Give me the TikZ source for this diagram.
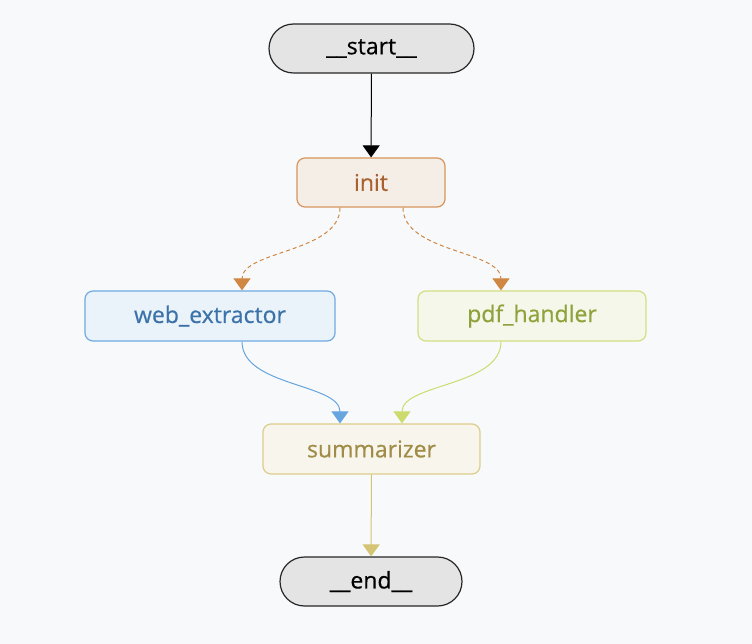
\documentclass[tikz,border=0pt]{standalone}
\usepackage{fontspec}
\setmainfont{Open Sans}[FakeBold=0.5]
\usetikzlibrary{arrows.meta}
\definecolor{bg}{HTML}{F8F9FB}
\definecolor{termfill}{HTML}{E4E4E4}
\definecolor{termdraw}{HTML}{262626}
\definecolor{initfill}{HTML}{F5EEE7}
\definecolor{initdraw}{HTML}{D6955C}
\definecolor{inittext}{HTML}{A8612F}
\definecolor{initedge}{HTML}{CF8743}
\definecolor{webfill}{HTML}{EAF2FA}
\definecolor{webdraw}{HTML}{6FAAE0}
\definecolor{webtext}{HTML}{3B72A8}
\definecolor{webedge}{HTML}{67A5E0}
\definecolor{pdffill}{HTML}{F5F7EB}
\definecolor{pdfdraw}{HTML}{D3DF80}
\definecolor{pdftext}{HTML}{8FA23B}
\definecolor{pdfedge}{HTML}{CDDB6E}
\definecolor{sumfill}{HTML}{F7F5EC}
\definecolor{sumdraw}{HTML}{DDCD8C}
\definecolor{sumtext}{HTML}{A08C46}
\definecolor{sumedge}{HTML}{D4C474}
\tikzset{
  box/.style={draw, line width=1.2pt, minimum height=49pt, rounded corners=8pt, inner sep=0pt, font=\fontsize{23}{26}\selectfont},
  term/.style={box, fill=termfill, draw=termdraw, rounded corners=24.5pt, text=black},
  edge/.style={line width=1pt, -{Triangle[length=12pt,width=17pt]}},
}
\begin{document}
\begin{tikzpicture}[x=1pt,y=-1pt]
\fill[bg] (0,0) rectangle (752,644);
\useasboundingbox (0,0) rectangle (752,644);
\node[term, minimum width=205pt] (start) at (371.5,48.5) {\_\_start\_\_};
\node[box, fill=initfill, draw=initdraw, text=inittext, minimum width=148pt] (init) at (371,182.5) {init};
\node[box, fill=webfill, draw=webdraw, text=webtext, minimum width=250pt, minimum height=50pt] (web) at (210,316) {web\_extractor};
\node[box, fill=pdffill, draw=pdfdraw, text=pdftext, minimum width=228pt, minimum height=50pt] (pdf) at (532,316) {pdf\_handler};
\node[box, fill=sumfill, draw=sumdraw, text=sumtext, minimum width=217pt, minimum height=50pt] (sum) at (371.5,449) {summarizer};
\node[term, minimum width=182pt] (end) at (371,581.5) {\_\_end\_\_};

\draw[edge, black] (start) -- (init);
\draw[edge, initedge, dash pattern=on 4pt off 3pt] ([xshift=-31pt]init.south) .. controls +(0,45) and +(0,-40) .. ([xshift=32pt]web.north);
\draw[edge, initedge, dash pattern=on 4pt off 3pt] ([xshift=32pt]init.south) .. controls +(0,45) and +(0,-40) .. ([xshift=-31pt]pdf.north);
\draw[edge, webedge] ([xshift=32pt]web.south) .. controls +(0,45) and +(0,-40) .. ([xshift=-31.5pt]sum.north);
\draw[edge, pdfedge] ([xshift=-31pt]pdf.south) .. controls +(0,45) and +(0,-40) .. ([xshift=30.5pt]sum.north);
\draw[edge, sumedge] (sum) -- (end);
\end{tikzpicture}
\end{document}
